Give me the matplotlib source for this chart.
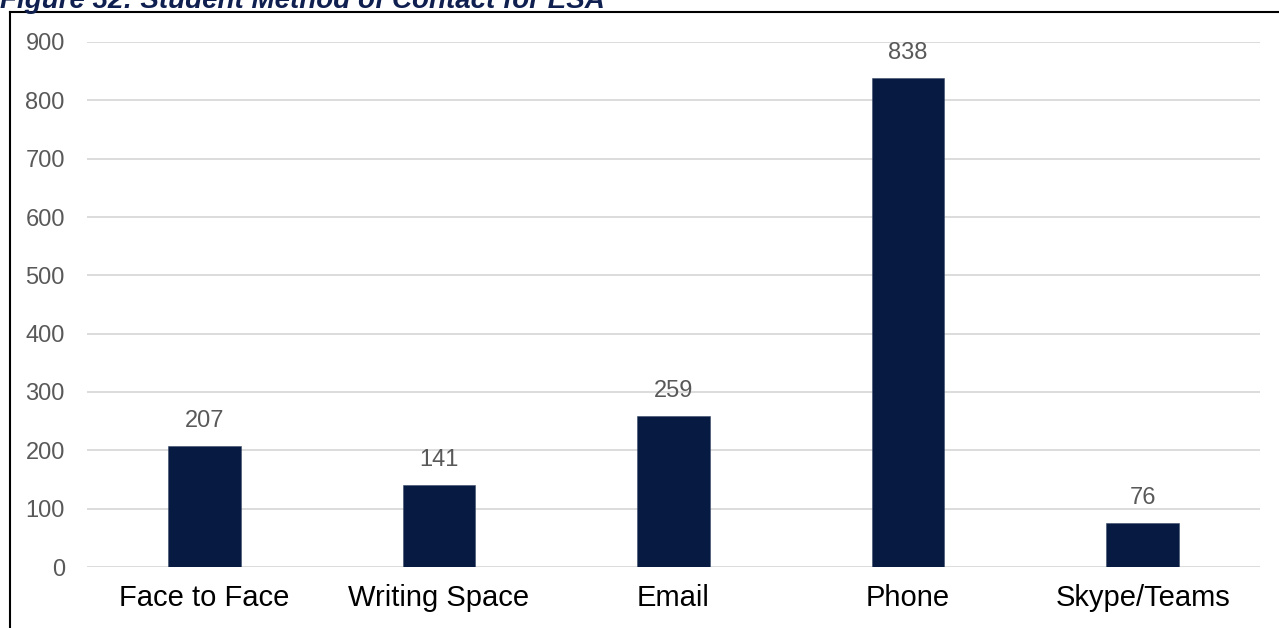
import matplotlib.pyplot as plt
from matplotlib.lines import Line2D

plt.rcParams['font.family'] = ['Liberation Sans', 'DejaVu Sans']

methods = ["Face to Face", "Writing Space", "Email", "Phone", "Skype/Teams"]
contacts = [207, 141, 259, 838, 76]
y_ticks = list(range(0, 1000, 100))

W, H = 1279, 628
fig = plt.figure(figsize=(W / 100, H / 100), dpi=100)
ax = fig.add_axes([87 / W, 1 - 567 / H, (1260 - 87) / W, (567 - 42) / H])

navy = "#071a42"
x = range(len(methods))
bars = ax.bar(x, contacts, width=0.31, color=navy, edgecolor="#3a4a6a",
              linewidth=0.4, zorder=3)

for b, v in zip(bars, contacts):
    ax.annotate(str(v), (b.get_x() + b.get_width() / 2, v),
                xytext=(0, 18), textcoords="offset points",
                ha="center", va="center", fontsize=17, color="#595959")

ax.set_xlim(-0.5, len(methods) - 0.5)
ax.set_ylim(0, 900)
ax.set_yticks(y_ticks)
ax.set_xticks(list(x))
ax.set_xticklabels(methods, fontsize=21, color="black")
ax.tick_params(axis="y", labelsize=17, labelcolor="#595959", length=0, pad=16)
ax.tick_params(axis="x", length=0, pad=12)
ax.grid(axis="y", color="#d9d9d9", linewidth=1.3, zorder=0)
for s in ax.spines.values():
    s.set_visible(False)

# frame lines and caption
fig.add_artist(Line2D([9.5 / W, 9.5 / W], [0, 1 - 12 / H], transform=fig.transFigure,
                      color="black", linewidth=1.5))
fig.add_artist(Line2D([9.5 / W, 1], [1 - 12 / H, 1 - 12 / H], transform=fig.transFigure,
                      color="black", linewidth=1.5))
fig.text(0.5 / W, 1 - 8 / H, "Figure 32: Student Method of Contact for ESA",
         fontsize=20, fontweight="bold", fontstyle="italic", color="#0f1f4f",
         ha="left", va="baseline")

fig.savefig("out.png", dpi=100)
